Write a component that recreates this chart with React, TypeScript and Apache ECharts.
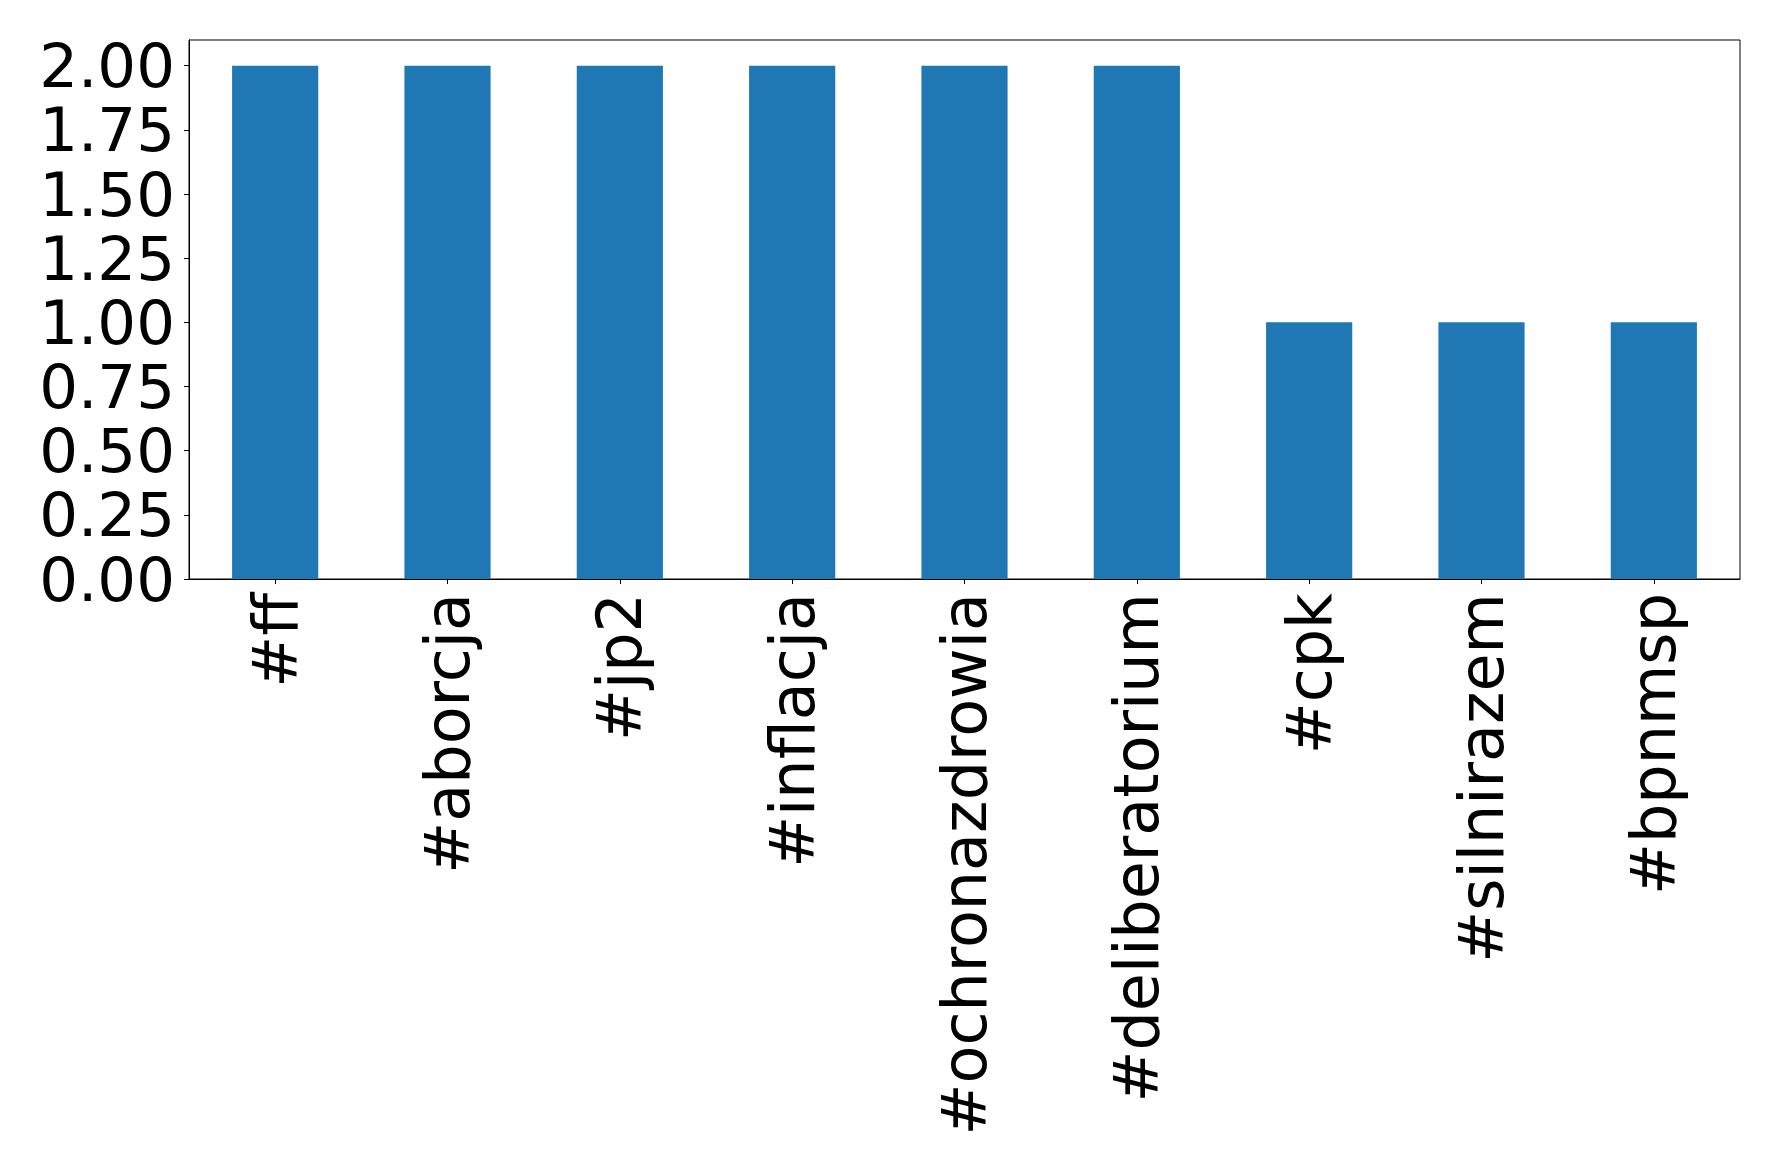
import React, { useEffect, useRef } from "react";
import * as echarts from "echarts";

const categories = ["#ff", "#aborcja", "#jp2", "#inflacja", "#ochronazdrowia", "#deliberatorium", "#cpk", "#silnirazem", "#bpnmsp"];
const values = [2, 2, 2, 2, 2, 2, 1, 1, 1];
const yTicks = [0, 0.25, 0.5, 0.75, 1.0, 1.25, 1.5, 1.75, 2.0];

export default function App() {
  const ref = useRef<HTMLDivElement>(null);
  useEffect(() => {
    const chart = echarts.init(ref.current!, null, { renderer: "svg" });
    const font = "DejaVu Sans";
    chart.setOption({
      animation: false,
      backgroundColor: "#ffffff",
      grid: {
        left: 189,
        top: 40,
        right: 38,
        bottom: 596,
        show: true,
        borderColor: "#000000",
        borderWidth: 1,
        backgroundColor: "transparent",
      },
      xAxis: {
        type: "category",
        data: categories,
        boundaryGap: true,
        axisLine: { show: true, lineStyle: { color: "#000000", width: 1 } },
        axisTick: { show: true, alignWithLabel: true, length: 5, lineStyle: { color: "#000000" } },
        axisLabel: {
          rotate: 90,
          interval: 0,
          margin: 14,
          fontSize: 62,
          fontFamily: font,
          color: "#000000",
        },
        splitLine: { show: false },
      },
      yAxis: {
        type: "value",
        min: 0,
        max: 2.1,
        interval: 0.25,
        axisLine: { show: true, lineStyle: { color: "#000000", width: 1 } },
        axisTick: { show: true, length: 5, lineStyle: { color: "#000000" }, customValues: yTicks },
        axisLabel: {
          customValues: yTicks,
          margin: 14,
          fontSize: 61,
          lineHeight: 61,
          fontFamily: font,
          color: "#000000",
          formatter: (v: number) => v.toFixed(2),
        },
        splitLine: { show: false },
      },
      series: [
        {
          type: "bar",
          data: values,
          barWidth: "50%",
          itemStyle: { color: "#1f77b4" },
        },
      ],
    });
    return () => chart.dispose();
  }, []);
  return (
    <div
      ref={ref}
      style={{ position: "fixed", left: 0, top: 0, width: 1778, height: 1175, background: "#fff" }}
    />
  );
}
